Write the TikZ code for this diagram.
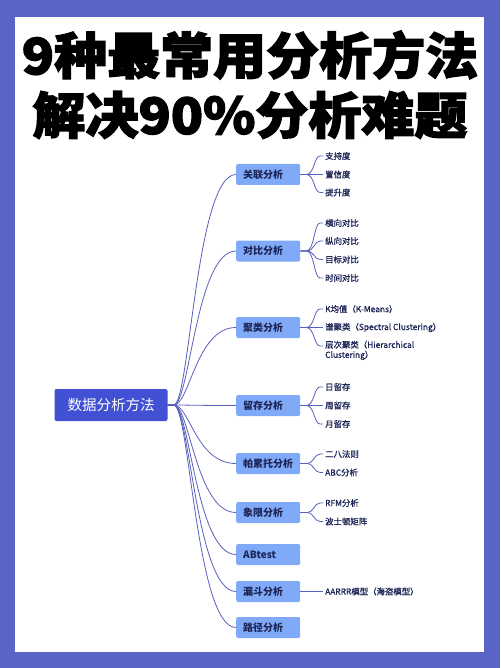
\documentclass[tikz,border=0pt]{standalone}
\usepackage{fontspec}
\usetikzlibrary{calc}
\setmainfont{Noto Sans CJK SC}
\newfontfamily\cjk{Noto Sans CJK SC}
\newfontfamily\leaffont{Noto Sans CJK SC}[FakeBold=0.9]
\newfontfamily\titlefont{Noto Sans CJK SC}[BoldFeatures={FakeBold=2.5}]
\definecolor{bgblue}{RGB}{90,100,196}
\definecolor{rootblue}{RGB}{66,80,212}
\definecolor{nodeblue}{RGB}{128,170,247}
\definecolor{linkblue}{RGB}{88,96,190}
\definecolor{navy}{RGB}{28,36,86}
\tikzset{
  titletext/.style={font=\titlefont\bfseries\fontsize{50}{50}\selectfont, inner sep=0, xscale=1.06},
  root/.style={fill=rootblue, rounded corners=2pt, text=white, inner sep=0,
    minimum width=113pt, minimum height=32pt, font=\cjk\fontsize{14.5}{15}\selectfont},
  branch/.style={fill=nodeblue, rounded corners=2pt, text=navy, anchor=west, inner xsep=7pt, inner ysep=0,
    text width=50pt, minimum height=21pt, align=left, font=\cjk\bfseries\fontsize{10}{11}\selectfont},
  leaf/.style={anchor=west, text=navy, inner xsep=2pt, inner ysep=0, align=left,
    font=\leaffont\fontsize{8.4}{10}\selectfont},
  link/.style={draw=linkblue, line width=0.8pt}
}
% leaves of one branch: parent, list of name/y/text
\newcommand{\leafset}[2]{%
  \foreach \lname/\ly/\ltxt in {#2} {
    \node[leaf] (\lname) at (323,\ly) {\ltxt};
    \draw[link] (#1.east) -- ++(6,0) .. controls +(8,0) and ($(\lname.west)+(-9,0)$) .. ($(\lname.west)+(-3,0)$) -- (\lname.west);
  }}
\begin{document}
\begin{tikzpicture}[x=1pt,y=-1pt]
\fill[bgblue] (0,0) rectangle (500,668);
\useasboundingbox (0,0) rectangle (500,668);
\fill[white] (15,17) rectangle (484,652);

% Title
\node[titletext] (t1) at (250,55) {9种最常用分析方法};
\node[titletext] (t2) at (250,115) {解决90\%分析难题};

% Root and branches
\node[root] (root) at (111,405) {数据分析方法};
\foreach \name/\y/\txt in {assoc/174.5/关联分析, comp/251/对比分析, clus/327.5/聚类分析,
    ret/405.5/留存分析, pareto/463.5/帕累托分析, quad/512.5/象限分析, ab/554.5/ABtest,
    funnel/591.5/漏斗分析, path/627.5/路径分析} {
  \node[branch] (\name) at (236,\y) {\txt};
  \draw[link] (root.east) -- ++(6,0) .. controls +(16,0) and ($(\name.west)+(-40,0)$) .. (\name.west);
}

% Leaves
\leafset{assoc}{a1/156/支持度, a2/174.5/置信度, a3/192.5/提升度}
\leafset{comp}{b1/223/横向对比, b2/241/纵向对比, b3/259.5/目标对比, b4/278/时间对比}
\leafset{clus}{c1/309/K均值（K-Means）, c2/327.5/谱聚类（Spectral Clustering）}
\node[leaf, anchor=north west] (c3) at (323,340.5) {层次聚类（Hierarchical\\Clustering）};
\coordinate (c3in) at ($(c3.north west)+(0,5.5)$);
\draw[link] (clus.east) -- ++(6,0) .. controls +(8,0) and ($(c3in)+(-9,0)$) .. ($(c3in)+(-3,0)$) -- (c3in);
\leafset{ret}{d1/387/日留存, d2/405.5/周留存, d3/424/月留存}
\leafset{pareto}{e1/454/二八法则, e2/472.5/ABC分析}
\leafset{quad}{f1/503/RFM分析, f2/521.5/波士顿矩阵}
\leafset{funnel}{g1/591.5/AARRR模型（海盗模型）}
\end{tikzpicture}
\end{document}
